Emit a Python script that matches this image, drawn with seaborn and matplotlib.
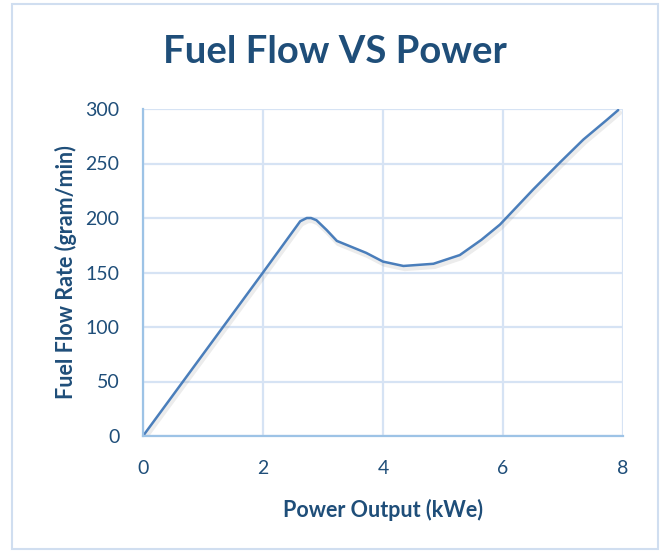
import matplotlib
matplotlib.use("Agg")
import matplotlib.pyplot as plt
import matplotlib.patheffects as pe
from matplotlib.patches import Rectangle
import seaborn as sns
import pandas as pd

# values
power_kwe = [0, 2.0, 2.62, 2.73, 2.8, 2.89, 3.06, 3.23, 3.72, 4.0, 4.34,
             4.84, 5.28, 5.64, 5.95, 6.5, 6.95, 7.34, 7.73, 7.92]
fuel_flow = [0, 150, 197, 200, 200, 198, 189, 179, 168, 160, 156,
             158, 166, 180, 194, 226, 251, 272, 290, 299]
x_ticks = [0, 2, 4, 6, 8]
y_ticks = [0, 50, 100, 150, 200, 250, 300]

df = pd.DataFrame({'Power': power_kwe, 'Fuel': fuel_flow})

sns.set_style('white')
plt.rcParams['font.family'] = ['Lato', 'DejaVu Sans']

dark_blue = '#1F4E79'
grid_col = '#D6E3F4'
line_col = '#4A7EBB'

fig = plt.figure(figsize=(6.65, 5.52), dpi=100)
ax = fig.add_axes([143 / 665, 1 - 436 / 552, 480 / 665, 327 / 552])

sns.lineplot(data=df, x='Power', y='Fuel', sort=False, estimator=None,
             color=line_col, linewidth=1.8, ax=ax,
             path_effects=[pe.SimpleLineShadow(offset=(1, -2), shadow_color='gray',
                                               alpha=0.15, linewidth=3.5),
                           pe.Normal()])

ax.set_xlim(0, 8)
ax.set_ylim(0, 300)
ax.set_xticks(x_ticks)
ax.set_yticks(y_ticks)
ax.grid(True, color=grid_col, linewidth=1.6)
ax.set_axisbelow(True)

for side in ['top', 'right']:
    ax.spines[side].set_visible(False)
for side in ['left', 'bottom']:
    ax.spines[side].set_color('#9DC3E6')
    ax.spines[side].set_linewidth(1.6)

ax.tick_params(axis='both', length=0, labelsize=14, labelcolor=dark_blue)
ax.tick_params(axis='y', pad=17)
ax.tick_params(axis='x', pad=17)

ax.set_xlabel('Power Output (kWe)', fontsize=15.5, fontweight='bold', color=dark_blue, labelpad=16)
ax.set_ylabel('Fuel Flow Rate (gram/min)', fontsize=15.5, fontweight='bold', color=dark_blue, labelpad=6)

fig.text(0.503, 1 - 52 / 552, 'Fuel Flow VS Power', ha='center', va='center',
         fontsize=27.5, fontweight='bold', color=dark_blue)

# chart border like the Excel chart area
fig.patches.append(Rectangle((12 / 665, 3 / 552), 646 / 665, 545 / 552,
                             transform=fig.transFigure, fill=False,
                             edgecolor='#D0DEF0', linewidth=1.5))

fig.savefig('out.png', dpi=100)
plt.close(fig)
